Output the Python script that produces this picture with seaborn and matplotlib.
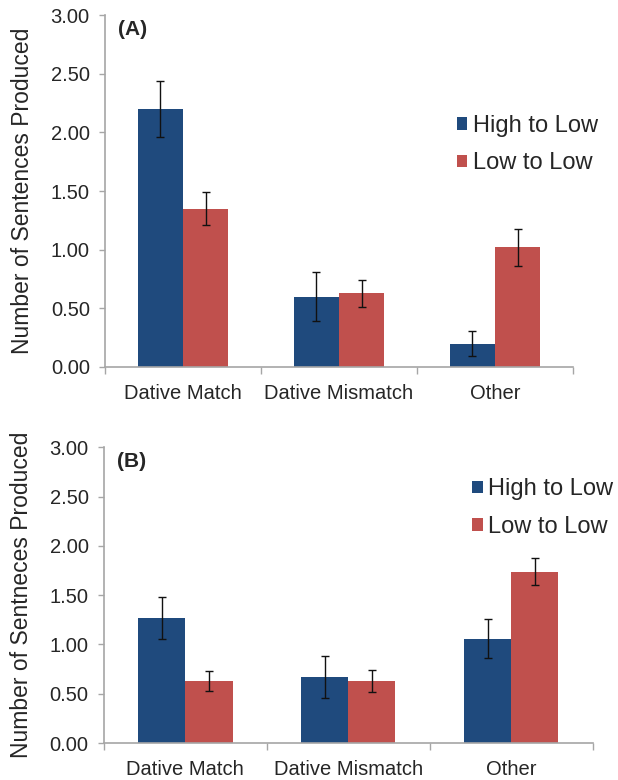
import matplotlib
matplotlib.use("Agg")
import matplotlib.pyplot as plt
import seaborn as sns
import pandas as pd
import numpy as np

categories = ["Dative Match", "Dative Mismatch", "Other"]
groups = ["High to Low", "Low to Low"]

a_high = [2.20, 0.60, 0.20]
a_low = [1.35, 0.63, 1.02]
a_high_err = [0.24, 0.21, 0.11]
a_low_err = [0.14, 0.115, 0.16]

b_high = [1.27, 0.67, 1.06]
b_low = [0.63, 0.63, 1.74]
b_high_err = [0.21, 0.21, 0.195]
b_low_err = [0.105, 0.11, 0.14]

yticks = [0.0, 0.5, 1.0, 1.5, 2.0, 2.5, 3.0]
colors = ["#1F4A7D", "#C0504D"]

sns.set_style("white")
plt.rcParams["font.family"] = ["Liberation Sans", "DejaVu Sans"]

fig = plt.figure(figsize=(6.18, 7.80), dpi=100)


def panel(rect, high, low, herr, lerr, ylabel, tag, leg_anchor):
    ax = fig.add_axes(rect)
    df = pd.DataFrame({
        "cat": categories * 2,
        "grp": [groups[0]] * 3 + [groups[1]] * 3,
        "val": list(high) + list(low),
    })
    sns.barplot(data=df, x="cat", y="val", hue="grp", order=categories,
                hue_order=groups, palette=colors, width=0.58, errorbar=None,
                saturation=1, linewidth=0, ax=ax, legend=True)
    for cont, errs in zip(ax.containers, [herr, lerr]):
        for bar, e in zip(cont, errs):
            cx = bar.get_x() + bar.get_width() / 2
            ax.errorbar(cx, bar.get_height(), yerr=e, fmt="none", ecolor="#111111",
                        elinewidth=1.0, capsize=3, capthick=1.0, zorder=5)
    ax.set_xlim(-0.5, 2.5)
    ax.set_ylim(0, 3.0)
    ax.set_yticks(yticks)
    ax.set_yticklabels([f"{t:.2f}" for t in yticks])
    ax.set_xlabel("")
    ax.set_ylabel(ylabel, fontsize=16.5, labelpad=12)
    for s in ["top", "right"]:
        ax.spines[s].set_visible(False)
    for s in ["left", "bottom"]:
        ax.spines[s].set_color("#a6a6a6")
        ax.spines[s].set_linewidth(1.2)
    ax.tick_params(axis="y", which="major", left=True, length=4, width=1,
                   color="#a6a6a6", labelsize=14.5, pad=7)
    ax.tick_params(axis="x", which="major", bottom=False, labelsize=14.5, pad=9)
    ax.set_xticks([-0.5, 0.5, 1.5, 2.5], minor=True)
    ax.tick_params(axis="x", which="minor", bottom=True, length=5, width=1,
                   color="#a6a6a6")
    ax.text(0.027, 0.985, tag, transform=ax.transAxes, fontsize=15,
            fontweight="bold", va="top", ha="left")
    handles, labels = ax.get_legend_handles_labels()
    ax.legend(handles, labels, loc="upper left", bbox_to_anchor=leg_anchor,
              frameon=False, fontsize=17, handlelength=0.45, handleheight=0.45,
              handletextpad=0.25, labelspacing=0.65, borderaxespad=0,
              borderpad=0)
    return ax


panel([0.170, 0.5295, 0.757, 0.451], a_high, a_low, a_high_err, a_low_err,
      "Number of Sentences Produced", "(A)", (0.752, 0.716))
panel([0.168, 0.0474, 0.791, 0.379], b_high, b_low, b_high_err, b_low_err,
      "Number of Sentneces Produced", "(B)", (0.753, 0.895))

fig.savefig("out.png", dpi=100)
